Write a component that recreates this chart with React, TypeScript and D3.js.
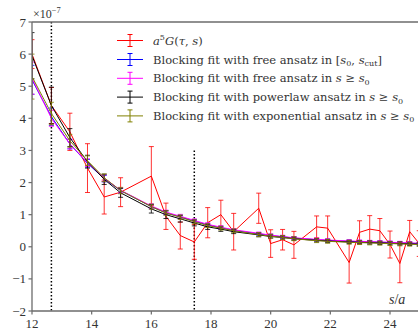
import React from "react";
import * as d3 from "d3";

// lattice separations s/a
const sValues = [12, 12.65, 13.27, 13.86, 14.42, 14.97, 16.0, 16.49, 16.97, 17.44, 17.89, 18.33, 18.76, 19.6, 20.0, 20.4, 20.78, 21.54, 21.91, 22.63, 22.98, 23.32, 23.66, 24.0, 24.33, 24.66, 24.98];

// a^5 G(tau, s) in units of 1e-7
const corrVals = [6.0, 4.4, 3.58, 2.45, 1.55, 1.7, 2.2, 0.95, 0.35, 0.15, 0.75, 1.0, 0.47, 1.2, 0.1, 0.22, 0.06, 0.62, 0.58, -0.49, 0.45, 0.55, 0.5, 0.07, -0.52, 0.47, 0.1];
const corrErrs = [0.45, 0.56, 0.58, 0.76, 0.53, 0.45, 0.92, 0.41, 0.42, 0.54, 0.47, 0.45, 0.57, 0.47, 0.43, 0.32, 0.42, 0.34, 0.38, 0.64, 0.36, 0.42, 0.38, 0.42, 0.6, 0.35, 0.4];

const freeCutVals = [5.2, 4.05, 3.2, 2.6, 2.12, 1.75, 1.25, 1.06, 0.93, 0.8, 0.68, 0.59, 0.51, 0.4, 0.35, 0.31, 0.27, 0.22, 0.2, 0.17, 0.16, 0.15, 0.14, 0.13, 0.12, 0.11, 0.1];
const freeCutErrs = [0.45, 0.27, 0.15, 0.12, 0.1, 0.08, 0.07, 0.06, 0.06, 0.05, 0.05, 0.05, 0.04, 0.04, 0.04, 0.04, 0.04, 0.04, 0.04, 0.04, 0.04, 0.04, 0.04, 0.04, 0.04, 0.04, 0.04];

const freeVals = [5.25, 4.0, 3.2, 2.62, 2.14, 1.76, 1.27, 1.08, 0.95, 0.82, 0.7, 0.61, 0.53, 0.42, 0.36, 0.32, 0.28, 0.23, 0.21, 0.18, 0.17, 0.16, 0.15, 0.14, 0.13, 0.12, 0.11];
const freeErrs = [0.5, 0.25, 0.15, 0.12, 0.1, 0.08, 0.07, 0.06, 0.06, 0.05, 0.05, 0.05, 0.04, 0.04, 0.04, 0.04, 0.04, 0.04, 0.04, 0.04, 0.04, 0.04, 0.04, 0.04, 0.04, 0.04, 0.04];

const powerVals = [5.95, 4.4, 3.4, 2.65, 2.1, 1.68, 1.18, 1.0, 0.87, 0.74, 0.62, 0.55, 0.47, 0.37, 0.32, 0.29, 0.25, 0.2, 0.18, 0.15, 0.14, 0.13, 0.12, 0.11, 0.1, 0.09, 0.08];
const powerErrs = [0.72, 0.57, 0.28, 0.2, 0.16, 0.14, 0.13, 0.12, 0.1, 0.09, 0.08, 0.07, 0.06, 0.06, 0.05, 0.05, 0.05, 0.05, 0.05, 0.05, 0.05, 0.05, 0.05, 0.05, 0.05, 0.05, 0.05];

const expoVals = [5.3, 4.15, 3.3, 2.68, 2.15, 1.75, 1.25, 1.05, 0.92, 0.78, 0.66, 0.58, 0.5, 0.38, 0.33, 0.29, 0.25, 0.19, 0.17, 0.14, 0.13, 0.12, 0.11, 0.1, 0.09, 0.08, 0.07];
const expoErrs = [0.7, 0.35, 0.2, 0.15, 0.12, 0.1, 0.08, 0.07, 0.07, 0.06, 0.06, 0.06, 0.06, 0.06, 0.06, 0.06, 0.06, 0.06, 0.06, 0.06, 0.06, 0.06, 0.06, 0.06, 0.06, 0.06, 0.06];

const xTicks = [12, 14, 16, 18, 20, 22, 24];
const yTicks = [-2, -1, 0, 1, 2, 3, 4, 5, 6, 7];

// s0 and s_cut markers
const s0 = 12.65;
const sCut = 17.44;
const sCutTop = 3.0;

const seriesList = [
  { key: "corr", color: "#ff0000", vals: corrVals, errs: corrErrs },
  { key: "freeCut", color: "#0000ff", vals: freeCutVals, errs: freeCutErrs },
  { key: "free", color: "#ff00ff", vals: freeVals, errs: freeErrs },
  { key: "power", color: "#000000", vals: powerVals, errs: powerErrs },
  { key: "expo", color: "#808000", vals: expoVals, errs: expoErrs },
];

const W = 418;
const H = 329;
const left = 32;
const top = 22;
const bottom = 311;
const pxPerUnit = 358 / 12;
const xMax = 25.3;

const x = d3.scaleLinear().domain([12, xMax]).range([left, left + (xMax - 12) * pxPerUnit]);
const y = d3.scaleLinear().domain([-2, 7]).range([bottom, top]);

const axisColor = "#6b6b6b";
const textColor = "#333333";
const serif = "'Liberation Serif', 'DejaVu Serif', serif";
const legendFont = "'DejaVu Serif', serif";

function ErrorSeries({ color, vals, errs }: { color: string; vals: number[]; errs: number[] }) {
  const line = d3
    .line<number>()
    .x((_, i) => x(sValues[i]))
    .y((v) => y(v));
  const cap = 2.5;
  return (
    <g>
      <path d={line(vals) || ""} fill="none" stroke={color} strokeWidth={1} />
      <g stroke={color} strokeWidth={1} strokeOpacity={0.8}>
        {vals.map((v, i) => {
          const cx = x(sValues[i]);
          const y1 = y(v + errs[i]);
          const y2 = y(v - errs[i]);
          return (
            <g key={i}>
              <line x1={cx} x2={cx} y1={y1} y2={y2} />
              <line x1={cx - cap} x2={cx + cap} y1={y1} y2={y1} />
              <line x1={cx - cap} x2={cx + cap} y1={y2} y2={y2} />
            </g>
          );
        })}
      </g>
    </g>
  );
}

function LegendHandle({ color, cy }: { color: string; cy: number }) {
  const x0 = 117;
  const x1 = 143;
  const cx = (x0 + x1) / 2;
  return (
    <g stroke={color} strokeWidth={1}>
      <line x1={x0} x2={x1} y1={cy} y2={cy} />
      <line x1={cx} x2={cx} y1={cy - 6} y2={cy + 6} />
      <line x1={cx - 2.5} x2={cx + 2.5} y1={cy - 6} y2={cy - 6} />
      <line x1={cx - 2.5} x2={cx + 2.5} y1={cy + 6} y2={cy + 6} />
    </g>
  );
}

export default function App() {
  const legendY = [40.5, 59.5, 78.3, 97.1, 115.9];
  const textX = 153;
  const fs = 11.5;
  const sub = 8;
  return (
    <svg width={W} height={H} style={{ position: "absolute", left: 0, top: 0, background: "#fff" }} fontFamily={serif}>
      <defs>
        <clipPath id="plotArea">
          <rect x={left} y={top} width={W - left + 20} height={bottom - top} />
        </clipPath>
      </defs>

      {/* reference lines at s0 and s_cut */}
      <line x1={x(s0)} x2={x(s0)} y1={y(7)} y2={y(-2)} stroke="#000" strokeWidth={1.5} strokeDasharray="1.5,2" />
      <line x1={x(sCut)} x2={x(sCut)} y1={y(sCutTop)} y2={y(-2)} stroke="#000" strokeWidth={1.5} strokeDasharray="1.5,2" />

      <g clipPath="url(#plotArea)">
        {seriesList.map((s) => (
          <ErrorSeries key={s.key} color={s.color} vals={s.vals} errs={s.errs} />
        ))}
      </g>

      {/* spines */}
      <g stroke={axisColor} strokeWidth={1.3}>
        <line x1={left} x2={W + 5} y1={top} y2={top} />
        <line x1={left} x2={W + 5} y1={bottom} y2={bottom} />
        <line x1={left} x2={left} y1={top} y2={bottom} />
      </g>

      {/* y ticks */}
      <g>
        {yTicks.map((t) => (
          <g key={t}>
            <line x1={left - 3.5} x2={left} y1={y(t)} y2={y(t)} stroke={axisColor} strokeWidth={1.2} />
            <text x={26} y={y(t) + 4.5} textAnchor="end" fontSize={13} fill={textColor}>
              {t < 0 ? "\u2212" + Math.abs(t) : String(t)}
            </text>
          </g>
        ))}
      </g>

      {/* x ticks */}
      <g>
        {xTicks.map((t) => (
          <g key={t}>
            <line x1={x(t)} x2={x(t)} y1={bottom} y2={bottom + 3.5} stroke={axisColor} strokeWidth={1.2} />
            <text x={x(t)} y={327.5} textAnchor="middle" fontSize={13} fill={textColor}>
              {t}
            </text>
          </g>
        ))}
      </g>

      {/* scale factor */}
      <text x={33} y={18} fontSize={12} fill={textColor}>
        ×10
        <tspan dy={-5} fontSize={8.5}>
          {"\u22127"}
        </tspan>
      </text>

      {/* x-axis label */}
      <text x={389} y={304} fontSize={14} fill={textColor}>
        <tspan fontStyle="italic">s</tspan>
        <tspan>/</tspan>
        <tspan fontStyle="italic">a</tspan>
      </text>

      {/* legend */}
      <g fontFamily={legendFont} fill={textColor} fontSize={fs}>
        {seriesList.map((s, i) => (
          <LegendHandle key={s.key} color={s.color} cy={legendY[i]} />
        ))}
        <text x={textX} y={legendY[0] + 4}>
          <tspan fontStyle="italic">a</tspan>
          <tspan dy={-5} fontSize={sub}>5</tspan>
          <tspan dy={5} fontStyle="italic">G</tspan>
          <tspan>(</tspan>
          <tspan fontStyle="italic">τ</tspan>
          <tspan>, </tspan>
          <tspan fontStyle="italic">s</tspan>
          <tspan>)</tspan>
        </text>
        <text x={textX} y={legendY[1] + 4}>
          <tspan>Blocking fit with free ansatz in [</tspan>
          <tspan fontStyle="italic">s</tspan>
          <tspan dy={2.5} fontSize={sub}>0</tspan>
          <tspan dy={-2.5}>, </tspan>
          <tspan fontStyle="italic">s</tspan>
          <tspan dy={2.5} fontSize={sub}>cut</tspan>
          <tspan dy={-2.5}>]</tspan>
        </text>
        <text x={textX} y={legendY[2] + 4}>
          <tspan>Blocking fit with free ansatz in </tspan>
          <tspan fontStyle="italic">s</tspan>
          <tspan> ≥ </tspan>
          <tspan fontStyle="italic">s</tspan>
          <tspan dy={2.5} fontSize={sub}>0</tspan>
        </text>
        <text x={textX} y={legendY[3] + 4}>
          <tspan>Blocking fit with powerlaw ansatz in </tspan>
          <tspan fontStyle="italic">s</tspan>
          <tspan> ≥ </tspan>
          <tspan fontStyle="italic">s</tspan>
          <tspan dy={2.5} fontSize={sub}>0</tspan>
        </text>
        <text x={textX} y={legendY[4] + 4}>
          <tspan>Blocking fit with exponential ansatz in </tspan>
          <tspan fontStyle="italic">s</tspan>
          <tspan> ≥ </tspan>
          <tspan fontStyle="italic">s</tspan>
          <tspan dy={2.5} fontSize={sub}>0</tspan>
        </text>
      </g>
    </svg>
  );
}
